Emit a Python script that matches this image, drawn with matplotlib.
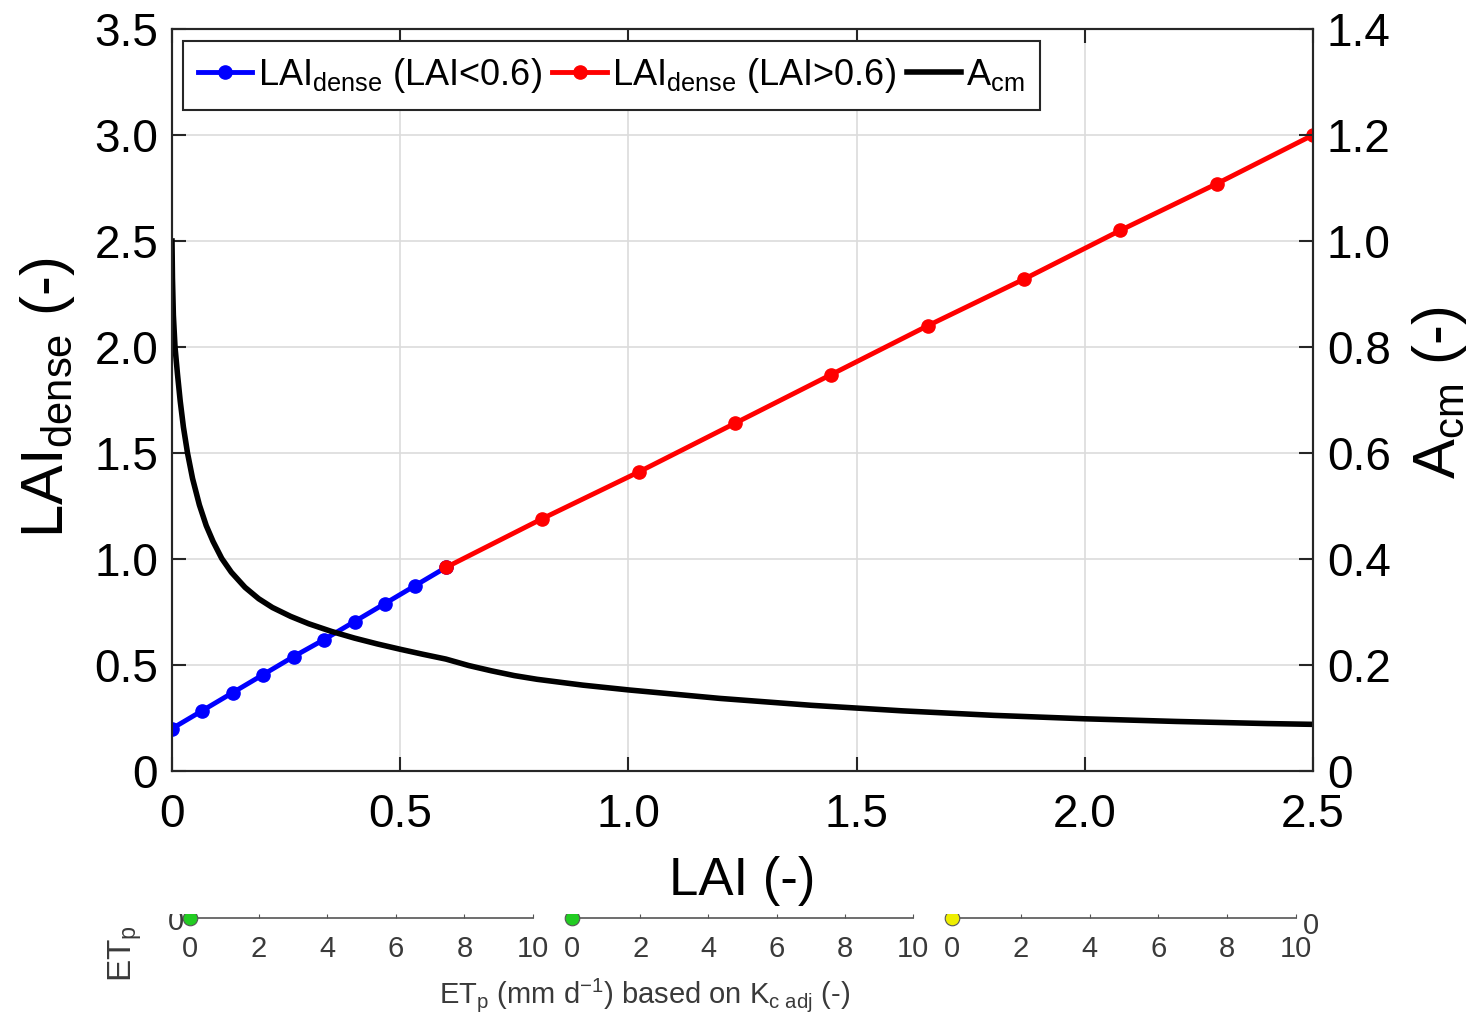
#!/usr/bin/env python3
"""LAI_dense and A_cm as a function of LAI."""

import matplotlib

matplotlib.use("Agg")
import matplotlib.pyplot as plt
from matplotlib.transforms import Bbox, TransformedBbox

plt.rcParams["font.family"] = ["Liberation Sans", "DejaVu Sans"]
plt.rcParams["mathtext.fontset"] = "custom"
plt.rcParams["mathtext.rm"] = "Liberation Sans"
plt.rcParams["mathtext.it"] = "Liberation Sans:italic"

# LAI_dense, low-LAI branch
lai_low = [0.0, 0.0667, 0.1333, 0.2, 0.2667, 0.3333, 0.4, 0.4667, 0.5333, 0.6]
dense_low = [0.20, 0.285, 0.37, 0.455, 0.54, 0.62, 0.705, 0.79, 0.875, 0.96]

# LAI_dense, high-LAI branch
lai_high = [0.6, 0.8111, 1.0222, 1.2333, 1.4444, 1.6556, 1.8667, 2.0778, 2.2889, 2.5]
dense_high = [0.96, 1.19, 1.41, 1.64, 1.87, 2.10, 2.32, 2.55, 2.77, 3.00]

# A_cm curve (right axis)
lai_acm = [0.0, 0.001, 0.003, 0.0066, 0.012, 0.018, 0.025, 0.034, 0.045, 0.06,
           0.075, 0.09, 0.109, 0.13, 0.16, 0.19, 0.22, 0.26, 0.30, 0.35,
           0.40, 0.45, 0.50, 0.55, 0.60, 0.65, 0.70, 0.75, 0.80, 0.90,
           1.0, 1.2, 1.4, 1.6, 1.8, 2.0, 2.2, 2.4, 2.5]
acm = [1.0, 0.93, 0.86, 0.80, 0.749, 0.698, 0.649, 0.60, 0.552, 0.502,
       0.463, 0.433, 0.401, 0.375, 0.3465, 0.325, 0.3085, 0.2917, 0.2777, 0.2632,
       0.2507, 0.2397, 0.2297, 0.2202, 0.2112, 0.199, 0.189, 0.180, 0.173, 0.162,
       0.153, 0.137, 0.124, 0.1135, 0.105, 0.0985, 0.0935, 0.0895, 0.088]

x_ticks = [0, 0.5, 1.0, 1.5, 2.0, 2.5]
x_tick_labels = ["0", "0.5", "1.0", "1.5", "2.0", "2.5"]
left_ticks = [0, 0.5, 1.0, 1.5, 2.0, 2.5, 3.0, 3.5]
left_tick_labels = ["0", "0.5", "1.0", "1.5", "2.0", "2.5", "3.0", "3.5"]
right_ticks = [0, 0.2, 0.4, 0.6, 0.8, 1.0, 1.2, 1.4]
right_tick_labels = ["0", "0.2", "0.4", "0.6", "0.8", "1.0", "1.2", "1.4"]

# remnants of the panel below (cropped)
strip_ticks = [0, 2, 4, 6, 8, 10]
strip_dot_colors = ["#22cc22", "#22cc22", "#eeee00"]

W, H = 1476, 1019
fig = plt.figure(figsize=(W / 100, H / 100), dpi=100)
fig.patch.set_facecolor("white")


def fx(px):
    return px / W


def fy(py):
    return 1 - py / H


ax = fig.add_axes([fx(172), fy(771), fx(1313) - fx(172), fy(29) - fy(771)])
ax2 = ax.twinx()

spine_color = "#262626"
ax.plot(lai_low, dense_low, color="blue", lw=3.5, marker="o", ms=9.5,
        label=r"LAI$_{\mathrm{dense}}$ (LAI<0.6)", zorder=3)
ax.plot(lai_high, dense_high, color="red", lw=3.5, marker="o", ms=9.5,
        label=r"LAI$_{\mathrm{dense}}$ (LAI>0.6)", zorder=3)
ax2.plot(lai_acm, acm, color="black", lw=4, label=r"A$_{\mathrm{cm}}$")

ax.set_xlim(0, 2.5)
ax.set_ylim(0, 3.5)
ax2.set_ylim(0, 1.4)
ax.set_xticks(x_ticks, x_tick_labels)
ax.set_yticks(left_ticks, left_tick_labels)
ax2.set_yticks(right_ticks, right_tick_labels)

ax.grid(True, color="#dcdcdc", lw=1.2)
ax.set_axisbelow(True)
for a in (ax, ax2):
    for s in a.spines.values():
        s.set_color(spine_color)
        s.set_linewidth(1.5)
ax.tick_params(axis="both", direction="in", length=10, width=1.5, colors=spine_color,
               labelcolor="black", labelsize=33, top=True)
ax.tick_params(axis="x", pad=16)
ax.tick_params(axis="y", pad=10)
ax2.tick_params(axis="y", direction="in", length=10, width=1.5, colors=spine_color,
                labelcolor="black", labelsize=33, pad=10)

ax.set_xlabel("LAI (-)", fontsize=38)
ax.xaxis.set_label_coords(0.4996, -0.115)
ax.set_ylabel(r"LAI$_{\mathrm{dense}}$ (-)", fontsize=43)
ax.yaxis.set_label_coords(-0.083, 0.503)
ax2.set_ylabel(r"A$_{\mathrm{cm}}$ (-)", fontsize=43, rotation=90)
ax2.yaxis.set_label_coords(1.085, 0.51)

h1, l1 = ax.get_legend_handles_labels()
h2, l2 = ax2.get_legend_handles_labels()
leg = ax2.legend(h1 + h2, l1 + l2, ncol=3, loc="upper left",
                 bbox_to_anchor=(0.0096, 0.984), borderaxespad=0, fontsize=26,
                 fancybox=False, framealpha=1, edgecolor=spine_color,
                 handlelength=1.5, handletextpad=0.15, columnspacing=0.3,
                 borderpad=0.42)
leg.get_frame().set_linewidth(1.5)

# ---- cropped lower panel remnants ----
strip_clip = TransformedBbox(Bbox([[0, 0], [1, fy(914)]]), fig.transFigure)
strip_color = "#3a3a3a"
for i, (x0, x1) in enumerate([(190, 533), (572, 913), (952, 1296)]):
    sa = fig.add_axes([fx(x0), fy(918), fx(x1) - fx(x0), fy(908) - fy(918)])
    sa.patch.set_visible(False)
    sa.set_xlim(0, 10)
    sa.set_ylim(0, 1)
    for name in ("top", "left", "right"):
        sa.spines[name].set_visible(False)
    sa.spines["bottom"].set_color("#555555")
    sa.spines["bottom"].set_linewidth(1.2)
    sa.set_xticks(strip_ticks)
    sa.set_yticks([])
    sa.tick_params(axis="x", direction="in", length=3, colors="#555555",
                   labelcolor=strip_color, labelsize=21, pad=12)
    dot = sa.scatter([0], [0], s=110, color=strip_dot_colors[i], edgecolor="#555555",
                     lw=0.8, zorder=5, clip_on=False)
    dot.set_clip_box(strip_clip)
    dot.set_clip_on(True)

for txt in [
    fig.text(fx(176), fy(922), "0", fontsize=21, color=strip_color, ha="center", va="center"),
    fig.text(fx(1311), fy(926), "0", fontsize=21, color=strip_color, ha="center", va="center"),
    fig.text(fx(125), fy(942), r"ET$_{\mathrm{p}}$ (", fontsize=24, color=strip_color,
             ha="center", va="center", rotation=90),
]:
    txt.set_clip_box(strip_clip)
    txt.set_clip_on(True)

fig.text(fx(645), fy(995), r"ET$_{\mathrm{p}}$ (mm d$^{-1}$) based on K$_{\mathrm{c\ adj}}$ (-)",
         fontsize=21, color=strip_color, ha="center", va="center")

fig.savefig("out.png", dpi=100)
